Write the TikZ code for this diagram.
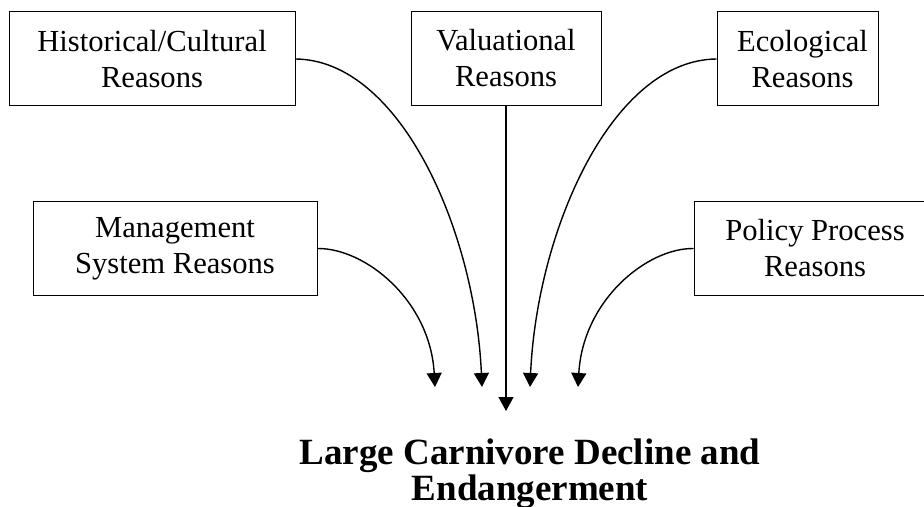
\documentclass[tikz,border=0pt]{standalone}
\usepackage{fontspec}
\setmainfont{Liberation Serif}
\usetikzlibrary{arrows.meta}

\begin{document}
\begin{tikzpicture}[x=0.5pt, y=-0.5pt,
  reason/.style={draw, line width=0.5pt, align=center, inner sep=0pt,
    minimum height=47pt, font=\fontsize{15.3}{18}\selectfont},
  link/.style={-{Triangle[length=7pt, width=7.5pt]}, line width=0.7pt}]
  \useasboundingbox (0,0) rectangle (924,507);
  % reason boxes
  \node[reason, minimum width=143pt] (hist) at (152,59) {Historical/Cultural\\Reasons};
  \node[reason, minimum width=95pt] (val) at (506,58.5) {Valuational\\Reasons};
  \node[reason, minimum width=80.5pt] (eco) at (797.5,59)
    {\hspace*{5pt}Ecological\\\hspace*{5pt}Reasons};
  \node[reason, minimum width=142pt] (mgmt) at (175,248.5) {Management\\System Reasons};
  \node[reason, minimum width=121pt] (pol) at (815,248.5) {Policy Process\\Reasons};
  % outcome
  \node[font=\bfseries\fontsize{18.5}{16.5}\selectfont, align=center] (decline) at (530,474)
    {Large Carnivore Decline and\\Endangerment};
  \coordinate (tipM) at (435,387);
  \coordinate (tipH) at (482,387);
  \coordinate (tipV) at (506,411);
  \coordinate (tipE) at (530,387);
  \coordinate (tipP) at (578,387);
  % arrows
  \draw[link] (hist.east) .. controls (400,60) and (475,230) .. (tipH);
  \draw[link] (val.south) -- (tipV);
  \draw[link] (eco.west) .. controls (612,60) and (537,230) .. (tipE);
  \draw[link] (mgmt.east) .. controls (365,248) and (430,300) .. (tipM);
  \draw[link] (pol.west) .. controls (647,248) and (583,300) .. (tipP);
\end{tikzpicture}
\end{document}
